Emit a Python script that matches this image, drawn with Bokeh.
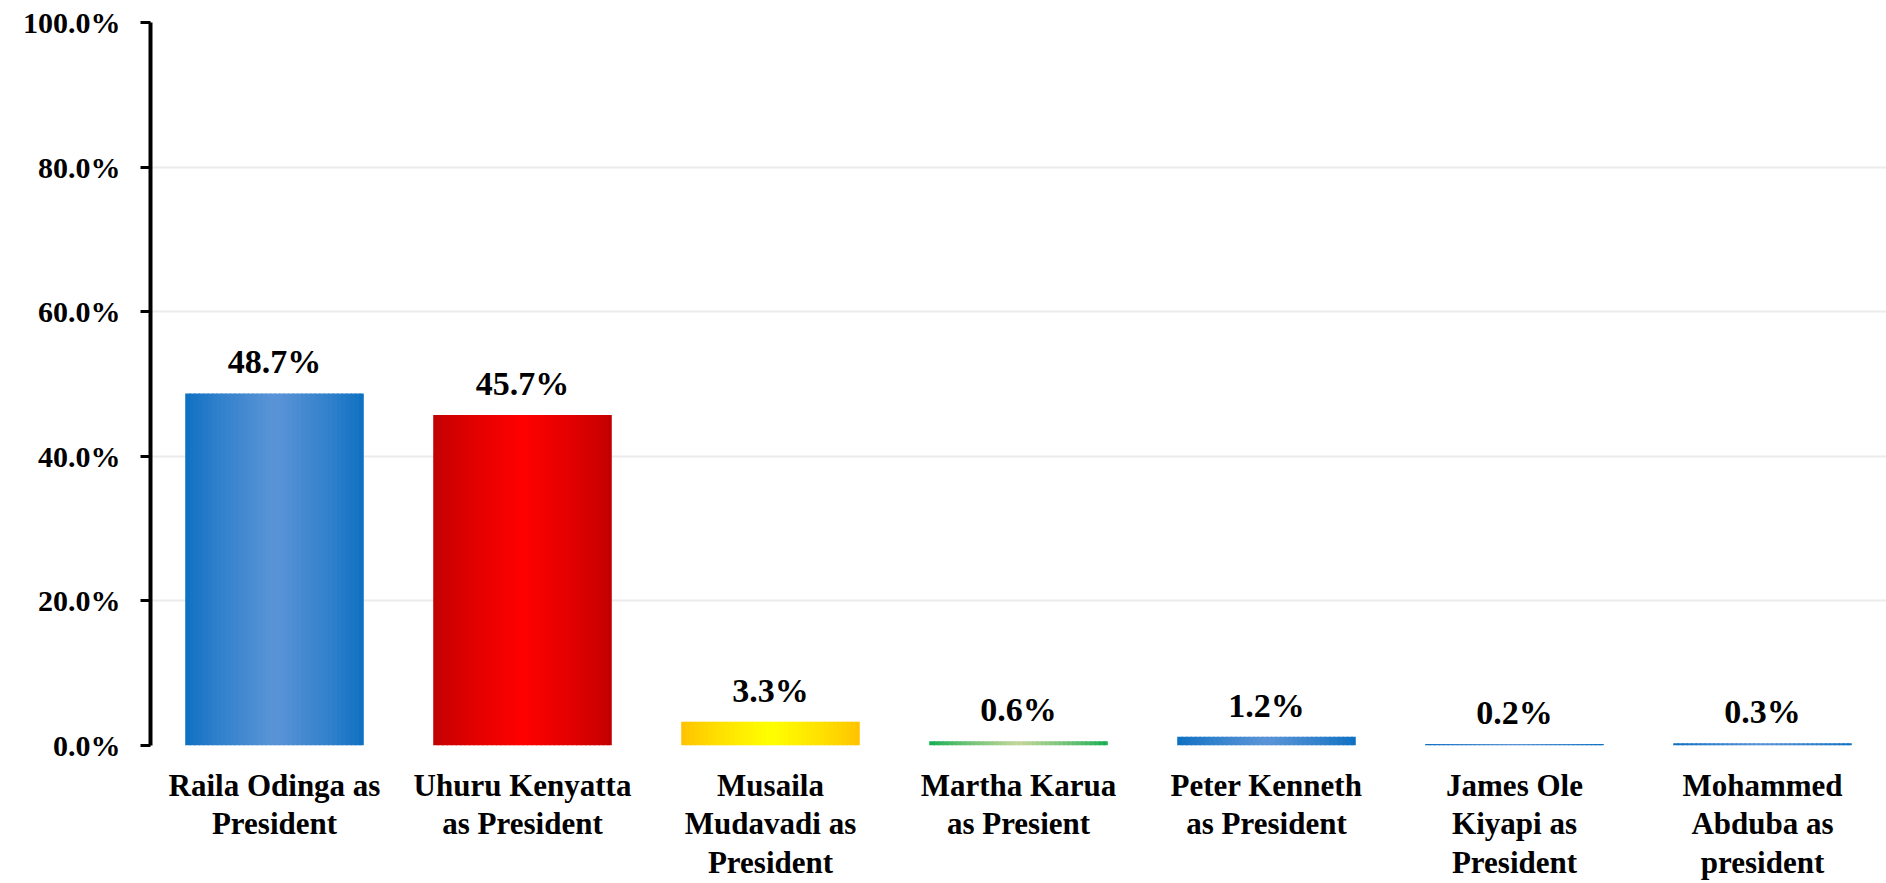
from bokeh.plotting import figure
from bokeh.models import ColumnDataSource, Range1d, FixedTicker, NumeralTickFormatter, LabelSet
from bokeh.transform import dodge
from bokeh.embed import file_html
from bokeh.resources import INLINE

categories = ["Raila Odinga as\nPresident", "Uhuru Kenyatta\nas President", "Musaila\nMudavadi as\nPresident",
              "Martha Karua\nas Presient", "Peter Kenneth\nas President", "James Ole\nKiyapi as\nPresident",
              "Mohammed\nAbduba as\npresident"]
values = [48.7, 45.7, 3.3, 0.6, 1.2, 0.2, 0.3]
value_labels = ["48.7%", "45.7%", "3.3%", "0.6%", "1.2%", "0.2%", "0.3%"]
edge_colors = ["#0b6fc1", "#c00000", "#ffc000", "#10ad4f", "#0b6fc1", "#0b6fc1", "#0b6fc1"]
center_colors = ["#5b94d7", "#ff0000", "#ffff00", "#c4d79b", "#5b94d7", "#5b94d7", "#5b94d7"]
y_ticks = [0, 0.2, 0.4, 0.6, 0.8, 1.0]

FONT = "Liberation Serif"
N = 40
BAR_W = 0.72


def hex2rgb(h):
    h = h.lstrip("#")
    return tuple(int(h[i:i + 2], 16) for i in (0, 2, 4))


def mix(a, b, t):
    ra, rb = hex2rgb(a), hex2rgb(b)
    return "#%02x%02x%02x" % tuple(int(round(x + (y - x) * t)) for x, y in zip(ra, rb))


data = dict(cat=categories, val=[v / 100 for v in values], lab=value_labels)
for j in range(N):
    t = (j + 0.5) / N
    k = (1 - abs(2 * t - 1)) ** 0.8
    data["c%d" % j] = [mix(e, c, k) for e, c in zip(edge_colors, center_colors)]
src = ColumnDataSource(data)

p = figure(width=1886, height=883, x_range=categories, y_range=Range1d(0, 1),
           output_backend="svg", toolbar_location=None,
           min_border_left=150, min_border_right=0, min_border_top=22, min_border_bottom=138)
p.outline_line_color = None

sw = BAR_W / N
for j in range(N):
    left = -BAR_W / 2 + sw * j
    right = left + (sw * 1.3 if j < N - 1 else sw)
    p.vbar(x=dodge("cat", (left + right) / 2, range=p.x_range), top="val", width=right - left, bottom=0,
           source=src, fill_color="c%d" % j, line_color=None)

labels = LabelSet(x="cat", y="val", text="lab", source=src, text_align="center",
                  text_baseline="alphabetic", y_offset=20, text_font=FONT,
                  text_font_style="bold", text_font_size="34px", text_color="#000000")
p.add_layout(labels)

p.xgrid.grid_line_color = None
p.ygrid.grid_line_color = "#ececec"
p.ygrid.grid_line_width = 2
p.ygrid.ticker = FixedTicker(ticks=y_ticks)

p.yaxis.ticker = FixedTicker(ticks=y_ticks)
p.yaxis.formatter = NumeralTickFormatter(format="0.0%")
p.yaxis.axis_line_width = 4
p.yaxis.axis_line_color = "#000000"
p.yaxis.major_tick_in = 0
p.yaxis.major_tick_out = 10
p.yaxis.major_tick_line_width = 3
p.yaxis.minor_tick_line_color = None
p.yaxis.major_label_standoff = 20
p.yaxis.major_label_text_font = FONT
p.yaxis.major_label_text_font_style = "bold"
p.yaxis.major_label_text_font_size = "30px"
p.yaxis.major_label_text_color = "#000000"

p.xaxis.axis_line_color = None
p.xaxis.major_tick_line_color = None
p.xaxis.minor_tick_line_color = None
p.xaxis.major_label_standoff = 16
p.xaxis.major_label_text_font = FONT
p.xaxis.major_label_text_font_style = "bold"
p.xaxis.major_label_text_font_size = "31px"
p.xaxis.major_label_text_color = "#000000"
p.xaxis.major_label_text_line_height = 1.1

open("out.html", "w").write(file_html(p, INLINE))
